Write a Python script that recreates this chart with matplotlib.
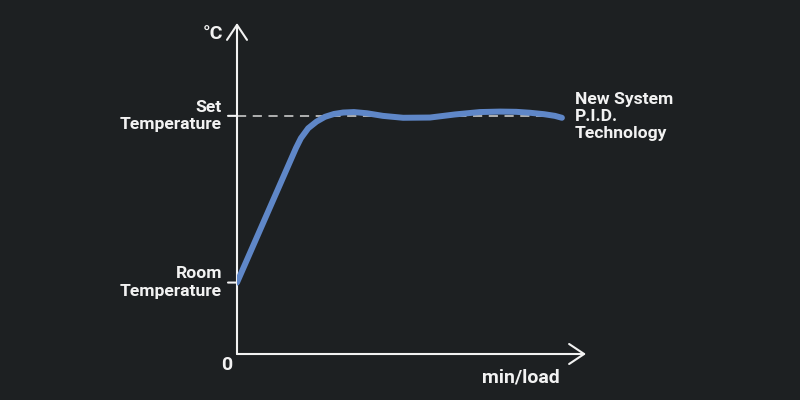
import matplotlib
matplotlib.use("Agg")
import matplotlib.pyplot as plt

# ---- data (time units 0-100, temperature in relative units) ----
time = [0, 16.9, 18.3, 20.4, 22.8, 25.2, 27.8, 30.4, 33.5, 37.2, 41.8, 47.6,
        55.3, 62.5, 69.6, 75.4, 80.0, 84.0, 88.0, 91.1, 93.1]
temp = [30, 86.5, 90.6, 94.8, 97.6, 99.6, 100.8, 101.4, 101.6, 101.1, 100.0, 99.2,
        99.3, 100.6, 101.6, 101.8, 101.7, 101.3, 100.7, 100.0, 99.2]

room_temp = 30
set_temp = 100
dash_end = 93
y_top = 139
x_end = 100

series_label = "New System\nP.I.D.\nTechnology"
y_unit = "°C"
x_unit = "min/load"
set_label = "Set\nTemperature"
room_label = "Room\nTemperature"
origin_label = "0"

BG = "#1d2022"
BLUE = "#5f87c8"
WHITE = "#f2f2f2"

plt.rcParams['font.family'] = ['Roboto', 'DejaVu Sans']

fig = plt.figure(figsize=(8, 4), dpi=100, facecolor=BG)
ax = fig.add_axes([237 / 800, 46 / 400, (586 - 237) / 800, (354 - 23) / 400])
ax.set_facecolor(BG)
ax.set_xlim(0, x_end)
ax.set_ylim(0, y_top)
ax.axis('off')

arrow = dict(arrowstyle='->,head_length=0.54,head_width=0.36', lw=1.5,
             color=WHITE, shrinkA=0, shrinkB=0, mutation_scale=20)
ax.annotate('', xy=(0, 1), xytext=(0, 0), xycoords='axes fraction',
            arrowprops=arrow, annotation_clip=False)
ax.annotate('', xy=(1, 0), xytext=(0, 0), xycoords='axes fraction',
            arrowprops=arrow, annotation_clip=False)

# dashed set temperature line
ax.plot([0, dash_end], [set_temp, set_temp], color='#d8d8d8', lw=1.1,
        dashes=(6, 4.3), zorder=2)
# ticks left of axis
for yv in (set_temp, room_temp):
    ax.annotate('', xy=(0, yv), xytext=(-9, 0), textcoords='offset pixels',
                arrowprops=dict(arrowstyle='-', lw=1.5, color=WHITE,
                                shrinkA=0, shrinkB=0), annotation_clip=False)

ax.plot(time, temp, color=BLUE, lw=4.3, solid_capstyle='round',
        solid_joinstyle='round', zorder=3)

fs = 12.6
tk = dict(color=WHITE, fontsize=fs, fontweight='bold', annotation_clip=False)
big = dict(color=WHITE, fontsize=14, fontweight='bold', annotation_clip=False)
ax.annotate(set_label, xy=(0, set_temp), xytext=(-15, 0), textcoords='offset pixels',
            ha='right', va='center', multialignment='right', linespacing=1.2, **tk)
ax.annotate(room_label, xy=(0, room_temp), xytext=(-15, 0), textcoords='offset pixels',
            ha='right', va='center', multialignment='right', linespacing=1.2, **tk)
ax.annotate(y_unit, xy=(0, 1), xycoords='axes fraction', xytext=(-14, -11),
            textcoords='offset pixels', ha='right', va='center', **big)
ax.annotate(origin_label, xy=(0, 0), xytext=(-10, -11), textcoords='offset pixels',
            ha='center', va='center', **big)
ax.annotate(x_unit, xy=(1, 0), xycoords='axes fraction', xytext=(-65, -23),
            textcoords='offset pixels', ha='center', va='center', **big)
ax.annotate(series_label, xy=(time[-1], temp[-1]), xytext=(13, 1),
            textcoords='offset pixels', ha='left', va='center',
            multialignment='left', linespacing=1.15, **tk)

fig.savefig('out.png', dpi=100, facecolor=BG)
